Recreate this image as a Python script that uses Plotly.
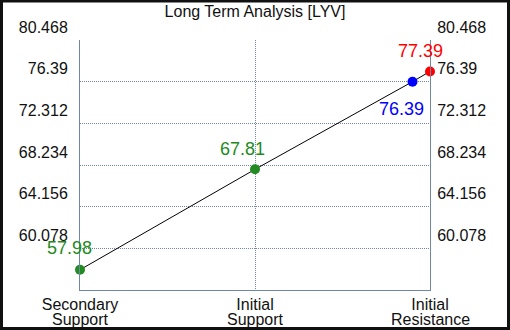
import plotly.graph_objects as go

title = "Long Term Analysis [LYV]"
categories = ["Secondary Support", "Initial Support", "Initial Resistance"]
cat_pos = [0, 1, 2]
point_x = [0, 1, 1.9, 2]
point_y = [57.98, 67.81, 76.39, 77.39]
point_colors = ["#228B22", "#228B22", "#0000FF", "#FF0000"]
label_dx = [-11, -13, -11, -10]
label_dy = [22, 20, -27, 20]
y_ticks = [60.078, 64.156, 68.234, 72.312, 76.39, 80.468]
y_range = [56.0, 80.468]

axis_color = "#6f86a6"
font_family = "Liberation Sans, Arial, sans-serif"
tick_font = dict(size=16, color="#111", family=font_family)

fig = go.Figure()
fig.add_trace(go.Scatter(
    x=point_x, y=point_y, mode="lines+markers",
    line=dict(color="black", width=1),
    marker=dict(color=point_colors, size=10),
    showlegend=False, hoverinfo="skip", cliponaxis=False,
))
fig.add_trace(go.Scatter(
    x=[point_x[0]], y=[point_y[0]], yaxis="y2", mode="markers",
    marker=dict(opacity=0), showlegend=False, hoverinfo="skip",
))

for x, y, c, dx, dy in zip(point_x, point_y, point_colors, label_dx, label_dy):
    fig.add_annotation(x=x, y=y, text=f"{y:.2f}", showarrow=False,
                       xshift=dx, yshift=dy,
                       font=dict(color=c, size=18, family=font_family))

# category labels: first line as tick label, second line as an annotation (tighter line spacing)
first_lines = [c.split(" ", 1)[0] for c in categories]
second_lines = [c.split(" ", 1)[1] for c in categories]
for x, txt in zip(cat_pos, second_lines):
    fig.add_annotation(x=x, xref="x", y=0, yref="paper", text=txt, showarrow=False,
                       yanchor="middle", yshift=-29, font=tick_font)

ytick_common = dict(
    range=y_range, tickmode="array", tickvals=y_ticks,
    ticktext=[f"{v:g}" for v in y_ticks],
    ticks="", ticklabelshift=-13, automargin=False,
    tickfont=tick_font, zeroline=False,
)

fig.update_layout(
    width=510, height=330,
    margin=dict(l=80, r=80, t=40, b=40, autoexpand=False),
    paper_bgcolor="white", plot_bgcolor="white",
    title=dict(text=title, x=0.5, xanchor="center", y=1 - 11 / 330, yanchor="middle",
               automargin=False, font=tick_font),
    xaxis=dict(range=[0, 2], tickmode="array", tickvals=cat_pos, ticktext=first_lines,
               showgrid=True, gridcolor=axis_color, griddash="1px,1px", gridwidth=1,
               showline=True, linecolor=axis_color, linewidth=1, zeroline=False,
               ticks="", ticklabelstandoff=0, automargin=False, tickfont=tick_font),
    yaxis=dict(showgrid=True, gridcolor=axis_color, griddash="1px,1px", gridwidth=1,
               showline=True, linecolor=axis_color, linewidth=1,
               ticklabelstandoff=8, **ytick_common),
    yaxis2=dict(overlaying="y", side="right", showgrid=False,
                showline=True, linecolor=axis_color, linewidth=1,
                ticklabelstandoff=3, **ytick_common),
)

# dark frame around the whole image
W, H = 510, 330
l, r, t, b = 80, 80, 40, 40
pw, ph = W - l - r, H - t - b
fig.add_shape(type="rect", xref="paper", yref="paper",
              x0=(-l + 1.5) / pw, x1=(W - l - 1.5) / pw,
              y0=(-b + 1.5) / ph, y1=(H - b - 1.0) / ph,
              line=dict(color="#111", width=3), fillcolor="rgba(0,0,0,0)")

fig.write_html(
    "out.html",
    config={"displayModeBar": False},
    post_script="document.body.style.margin='0';document.body.style.overflow='hidden';",
)
